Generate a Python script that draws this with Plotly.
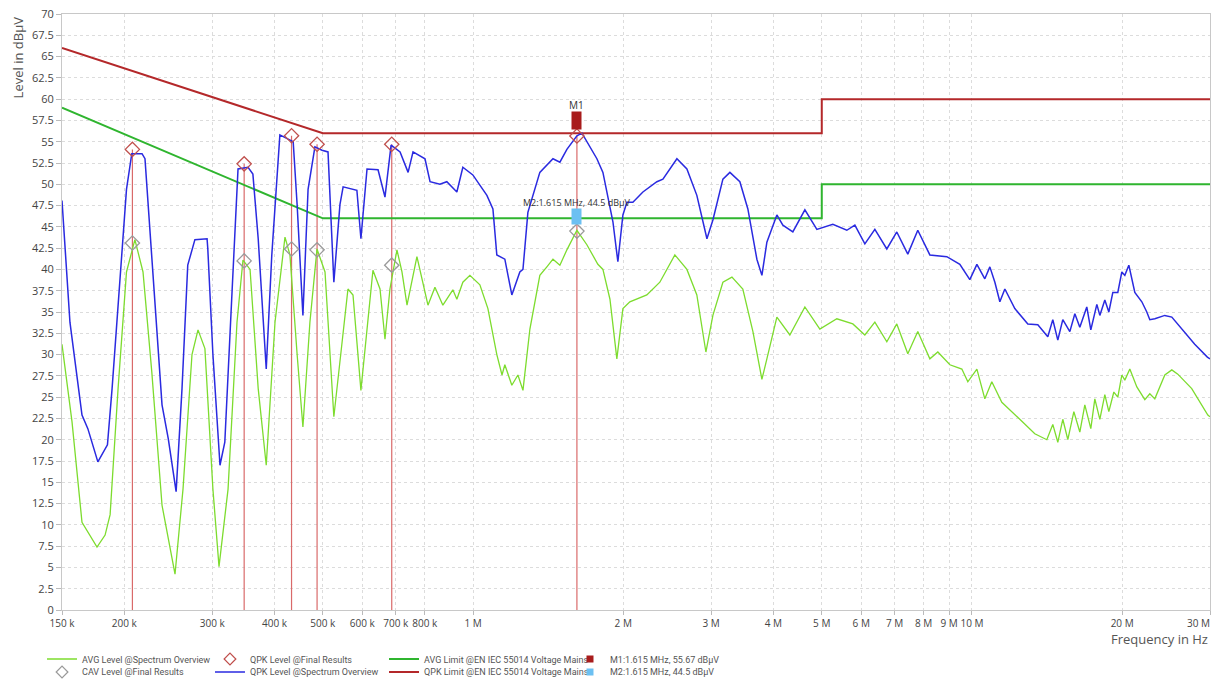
import math
import plotly.graph_objects as go

# ---------------- data (frequencies in kHz, levels in dBµV) ----------------
qpk_freq_khz = [150, 155.6, 164.5, 169, 177, 185, 189, 198, 202, 207, 217, 220, 227, 238, 245, 254,
                261, 268, 277, 293, 294, 301, 311, 318, 329, 338, 354, 362, 371, 385, 395, 410,
                426, 436, 444, 456, 467, 482, 498, 512, 526, 541, 549, 585, 596, 613, 645, 666,
                685, 714, 741, 758, 801, 820, 858, 886, 928, 954, 999, 1066, 1096, 1116, 1158,
                1196, 1241, 1259, 1288, 1361, 1446, 1493, 1542, 1615, 1653, 1715, 1771, 1821,
                1907, 1951, 1997, 2034, 2091, 2190, 2336, 2402, 2562, 2683, 2809, 2943, 3025,
                3168, 3272, 3426, 3555, 3706, 3793, 3881, 4064, 4178, 4375, 4625, 4888, 5262,
                5613, 5825, 6100, 6388, 6751, 7069, 7437, 7788, 8234, 8905, 9456, 9902, 10230,
                10612, 10861, 11115, 11374, 11639, 12188, 12942, 13552, 14191, 14522, 14861,
                15208, 15710, 16078, 16452, 16989, 17308, 17795, 18043, 18464, 18808, 19157,
                19605, 19971, 20249, 20627, 21206, 21902, 22410, 22725, 23255, 24352, 25152,
                26336, 27960, 29636, 30000]
qpk_level = [48.1, 33.8, 22.9, 21.3, 17.4, 19.4, 26.0, 41.7, 49.4, 53.6, 53.6, 53.0, 41.7, 24.1, 20.1, 13.9,
             26.0, 40.5, 43.5, 43.6, 42.4, 30.0, 17.0, 19.7, 37.7, 51.8, 52.0, 51.2, 43.6, 28.3, 41.7, 55.8,
             55.3, 55.0, 47.6, 34.6, 49.4, 54.4, 54.0, 53.8, 38.5, 47.6, 49.7, 49.3, 43.6, 51.8, 51.7, 48.5,
             54.6, 53.8, 51.4, 53.8, 53.0, 50.3, 50.0, 50.3, 49.1, 52.0, 51.1, 48.7, 47.1, 41.7, 41.2,
             37.0, 39.7, 40.0, 46.7, 51.4, 53.0, 52.6, 54.1, 55.7, 56.0, 54.4, 53.0, 51.4,
             45.6, 40.9, 46.4, 47.9, 47.9, 49.1, 50.3, 50.6, 53.0, 51.8, 48.7, 43.6, 45.8,
             50.6, 51.4, 50.3, 47.1, 41.2, 39.3, 43.2, 46.4, 45.2, 44.4, 47.0, 44.7, 45.3,
             44.6, 45.2, 43.0, 44.7, 42.4, 44.4, 41.8, 44.6, 41.7, 41.5, 40.6, 38.8, 40.6,
             38.9, 40.3, 38.5, 36.2, 37.7, 35.4, 33.6, 33.5, 32.1, 34.1, 31.7,
             34.1, 32.7, 34.8, 33.2, 35.6, 32.9, 35.9, 34.6, 36.4, 35.0, 37.3,
             37.3, 39.7, 39.3, 40.5, 37.3, 36.2, 35.0, 34.1, 34.2, 34.6, 34.4,
             33.0, 31.2, 29.7, 29.5]

avg_freq_khz = [150, 157.1, 164.5, 169, 176.3, 183, 187.3, 194.3, 202, 210, 218, 227, 238, 252.7, 262.2,
                273.3, 281, 290.1, 301, 309.6, 322.8, 336.4, 345.8, 357.3, 371, 385, 400.9, 419.8,
                429.5, 444, 456, 471, 486.6, 505, 526, 561.4, 574.6, 596, 630, 650.9, 666, 681.4,
                703.8, 720.3, 737.3, 771.8, 812.1, 838.7, 870, 911, 928, 954, 985.6, 1032, 1071,
                1116, 1143, 1158, 1196, 1230, 1259, 1300, 1361, 1406, 1446, 1493, 1542, 1615,
                1691, 1779, 1821, 1881, 1942, 1997, 2062, 2230, 2368, 2538, 2683, 2809, 2929,
                3025, 3168, 3303, 3473, 3639, 3793, 3881, 4064, 4315, 4625, 4956, 5360, 5771,
                6100, 6388, 6751, 7069, 7437, 7788, 8234, 8543, 9031, 9544, 9811, 10230, 10612,
                10959, 11477, 12470, 13365, 14126, 14522, 14861, 15208, 15565, 16004, 16452,
                16836, 17308, 17631, 18043, 18464, 18808, 19247, 19605, 19971, 20249, 20722,
                21403, 22207, 22725, 23255, 24352, 25152, 25857, 27576, 29701, 30000]
avg_level = [31.2, 22.1, 10.3, 9.2, 7.4, 8.8, 11.2, 26.0, 39.7, 43.5, 39.7, 28.0, 12.3, 4.2, 14.2,
             30.0, 32.9, 30.7, 14.2, 5.1, 14.2, 33.8, 41.1, 40.0, 26.0, 17.0, 33.8, 43.8,
             41.7, 30.0, 21.5, 33.8, 42.4, 39.7, 22.7, 37.7, 37.0, 25.8, 39.9, 37.7, 31.8, 37.7,
             42.3, 39.7, 35.8, 41.5, 35.8, 37.9, 35.8, 37.6, 36.5, 38.5, 39.3, 38.2, 35.4,
             30.0, 27.6, 28.8, 26.4, 27.6, 25.8, 33.0, 39.3, 40.3, 41.2, 40.5, 42.3, 44.6,
             42.9, 40.6, 40.0, 36.5, 29.5, 35.4, 36.2, 37.0, 38.5, 41.7, 40.0, 37.0, 30.3,
             34.6, 38.5, 39.1, 37.7, 32.7, 27.1, 29.5, 34.4, 32.3, 35.6, 33.0, 34.2, 33.6,
             32.3, 33.8, 31.5, 33.6, 30.1, 32.7, 29.5, 30.3, 28.8, 28.3, 26.8, 28.3, 24.8,
             26.8, 24.4, 22.4, 20.7, 20.0, 21.8, 19.7, 22.4, 20.0, 23.3, 20.9,
             24.1, 21.3, 24.8, 22.4, 25.3, 23.3, 25.6, 25.0, 27.6, 27.0, 28.3,
             26.2, 24.7, 25.4, 24.8, 27.6, 28.2, 27.7, 26.0, 22.9, 22.7]

# limits (EN IEC 55014 voltage mains)
limit_freq_khz = [150, 500, 5000, 5000, 30000]
qpk_limit = [66, 56, 56, 60, 60]
avg_limit = [59, 46, 46, 50, 50]

# final results
final_freq_khz = [207.6, 347.7, 432.7, 486.8, 687.1, 1615]
final_qpk = [54.1, 52.4, 55.7, 54.7, 54.7, 55.67]
final_cav = [43.1, 41.0, 42.4, 42.3, 40.5, 44.5]

# markers
m1_freq_khz, m1_level = 1615, 55.67
m2_freq_khz, m2_level = 1615, 44.5

x_tick_hz = [150e3, 200e3, 300e3, 400e3, 500e3, 600e3, 700e3, 800e3, 1e6, 2e6, 3e6, 4e6,
             5e6, 6e6, 7e6, 8e6, 9e6, 10e6, 20e6, 30e6]
x_tick_text = ["150 k", "200 k", "300 k", "400 k", "500 k", "600 k", "700 k", "800 k", "1 M",
               "2 M", "3 M", "4 M", "5 M", "6 M", "7 M", "8 M", "9 M", "10 M", "20 M", "30 M"]
y_tick_vals = [i * 2.5 for i in range(29)]
y_tick_text = [("%g" % v) for v in y_tick_vals]

# ---------------- styles ----------------
C_BLUE = "#2a2ae0"
C_AVG = "#7ddc2e"
C_AVGLIM = "#2fb52f"
C_QPKLIM = "#b4282a"
C_FINAL = "#c0504d"
C_VLINE = "#d96a6a"
C_CAV = "#9a9a9a"
C_M1 = "#a81c1c"
C_M2 = "#6cc0f2"
FONT = "Open Sans"
LFONT = "Roboto"

k = 1000.0
fig = go.Figure()

# vertical lines for final results
vx, vy = [], []
for f, q in zip(final_freq_khz, final_qpk):
    vx += [f * k, f * k, None]
    vy += [0, q, None]
fig.add_trace(go.Scatter(x=vx, y=vy, mode="lines", line=dict(color=C_VLINE, width=1.2),
                         hoverinfo="skip", showlegend=False))

fig.add_trace(go.Scatter(x=[f * k for f in limit_freq_khz], y=avg_limit, mode="lines",
                         line=dict(color=C_AVGLIM, width=2), showlegend=False))
fig.add_trace(go.Scatter(x=[f * k for f in limit_freq_khz], y=qpk_limit, mode="lines",
                         line=dict(color=C_QPKLIM, width=2), showlegend=False))
fig.add_trace(go.Scatter(x=[f * k for f in avg_freq_khz], y=avg_level, mode="lines",
                         line=dict(color=C_AVG, width=1.3), showlegend=False))
fig.add_trace(go.Scatter(x=[f * k for f in qpk_freq_khz], y=qpk_level, mode="lines",
                         line=dict(color=C_BLUE, width=1.5), showlegend=False))
fig.add_trace(go.Scatter(x=[f * k for f in final_freq_khz], y=final_cav, mode="markers",
                         marker=dict(symbol="diamond-open", size=11, color=C_CAV, line=dict(width=1.3)),
                         showlegend=False))
fig.add_trace(go.Scatter(x=[f * k for f in final_freq_khz], y=final_qpk, mode="markers",
                         marker=dict(symbol="diamond-open", size=11, color=C_FINAL, line=dict(width=1.3)),
                         showlegend=False))

# legend entries: one small legend per entry, 4 columns x 2 rows
legend_entries = [
    ("AVG Level @Spectrum Overview", dict(mode="lines", line=dict(color=C_AVG, width=1.5))),
    ("CAV Level @Final Results", dict(mode="markers",
        marker=dict(symbol="diamond-open", size=9, color=C_CAV, line=dict(width=1.2)))),
    ("QPK Level @Final Results", dict(mode="markers",
        marker=dict(symbol="diamond-open", size=9, color=C_FINAL, line=dict(width=1.2)))),
    ("QPK Level @Spectrum Overview", dict(mode="lines", line=dict(color=C_BLUE, width=1.5))),
    ("AVG Limit @EN IEC 55014 Voltage Mains", dict(mode="lines", line=dict(color=C_AVGLIM, width=2))),
    ("QPK Limit @EN IEC 55014 Voltage Mains", dict(mode="lines", line=dict(color=C_QPKLIM, width=2))),
    ("M1:1.615 MHz, 55.67 dBµV", dict(mode="markers", marker=dict(symbol="square", size=7, color=C_M1))),
    ("M2:1.615 MHz, 44.5 dBµV", dict(mode="markers", marker=dict(symbol="square", size=7, color=C_M2))),
]
col_x = [-0.0174, 0.1289, 0.2805, 0.4425]
row_y = [-0.0822, -0.104]

legend_layouts = {}
for i, (name, kw) in enumerate(legend_entries):
    lname = "legend" if i == 0 else "legend%d" % (i + 1)
    fig.add_trace(go.Scatter(x=[None], y=[None], name=name, legend=lname, **kw))
    legend_layouts[lname] = dict(x=col_x[i // 2], y=row_y[i % 2], xanchor="left", yanchor="middle",
                                 orientation="h", font=dict(size=9, color="#555", family=LFONT),
                                 bgcolor="rgba(0,0,0,0)", itemwidth=30)

# marker flags and labels
annotations = []
for f, lv, col, lab, h, fs in [(m1_freq_khz, m1_level, C_M1, "M1", 17, 10),
                               (m2_freq_khz, m2_level, C_M2, "M2:1.615 MHz, 44.5 dBµV", 15, 9)]:
    xl = math.log10(f * k)
    annotations.append(dict(x=xl, y=lv, xref="x", yref="y", text=" ", showarrow=False,
                            bgcolor=col, width=9, height=h, borderpad=0, yanchor="bottom",
                            yshift=6, font=dict(size=6)))
    annotations.append(dict(x=xl, y=lv, xref="x", yref="y", text=lab, showarrow=False,
                            yanchor="bottom", yshift=5 + h, font=dict(size=fs, color="#333", family=FONT)))

annotations.append(dict(x=-0.038, y=1.0, xref="paper", yref="paper", text="Level in dBµV",
                        textangle=-90, showarrow=False, xanchor="center", yanchor="top",
                        font=dict(size=13, color="#555", family=FONT)))
annotations.append(dict(x=1.0, y=-0.049, xref="paper", yref="paper", text="Frequency in Hz",
                        showarrow=False, xanchor="right", yanchor="middle",
                        font=dict(size=13, color="#555", family=FONT)))
# last tick label kept inside the frame, right-aligned at the axis end (as in the reference)
annotations.append(dict(x=1.0015, y=-0.0215, xref="paper", yref="paper", text=x_tick_text[-1],
                        showarrow=False, xanchor="right", yanchor="middle",
                        font=dict(size=10, color="#444", family=FONT)))
shown_tick_text = x_tick_text[:-1] + [""]

fig.update_layout(
    width=1221, height=679,
    margin=dict(l=54, r=19, t=6, b=77, autoexpand=False),
    paper_bgcolor="white", plot_bgcolor="white",
    font=dict(family=FONT, size=11, color="#444"),
    annotations=annotations,
    xaxis=dict(type="log", range=[math.log10(150e3), math.log10(30e6)],
               tickvals=x_tick_hz, ticktext=shown_tick_text, ticks="outside", ticklen=4,
               tickangle=0, automargin=False, ticklabeloverflow="allow",
               tickcolor="#bbb", showline=True, linecolor="#c8c8c8", mirror=True,
               showgrid=True, gridcolor="#dcdcdc", griddash="dot", zeroline=False,
               tickfont=dict(size=10, color="#444")),
    yaxis=dict(range=[0, 70], tickvals=y_tick_vals, ticktext=y_tick_text, ticks="outside",
               ticklen=5, tickcolor="#bbb", showline=True, linecolor="#c8c8c8", mirror=True,
               automargin=False, ticklabeloverflow="allow",
               showgrid=True, gridcolor="#dcdcdc", griddash="dot", zeroline=False,
               tickfont=dict(size=11, color="#444")),
    **legend_layouts,
)

fig.write_html("out.html")
